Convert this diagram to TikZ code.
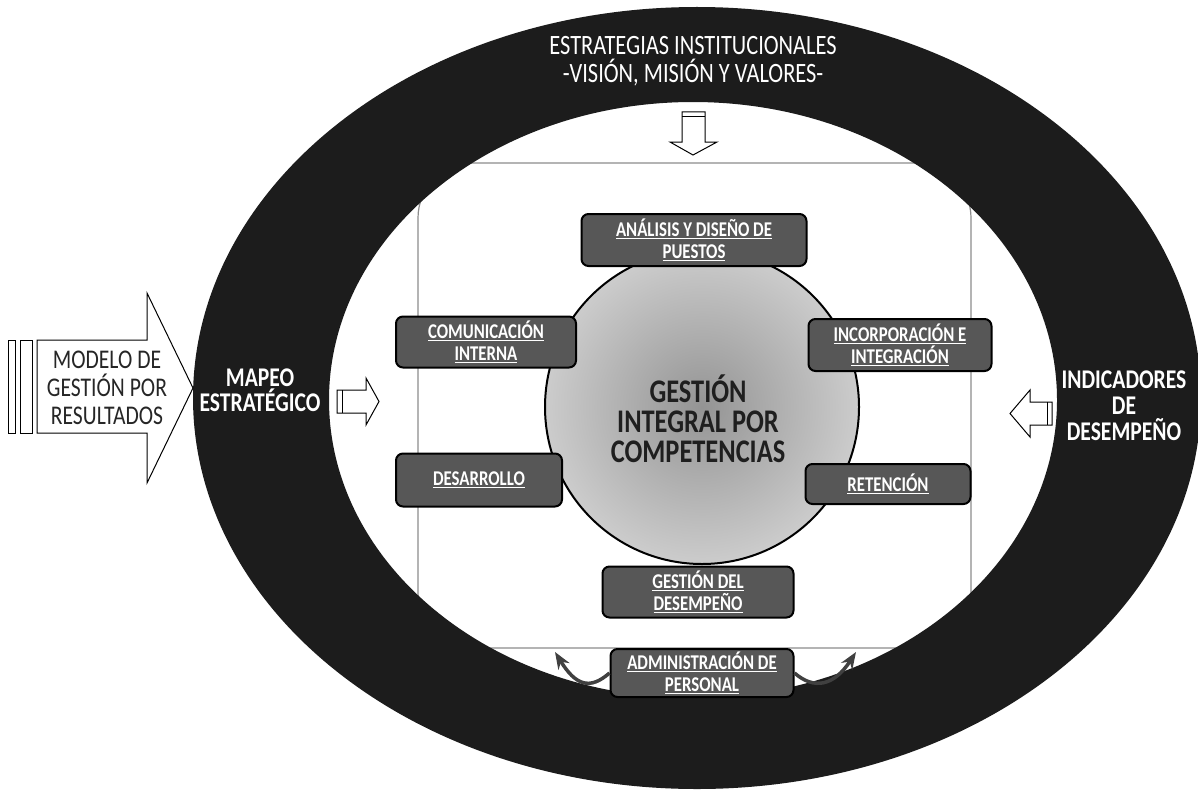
\documentclass[tikz,border=0pt]{standalone}
\usepackage{fontspec}
\setmainfont{Carlito}[FakeStretch=0.8]
\usetikzlibrary{arrows.meta}
\definecolor{ringc}{HTML}{1C1C1C}
\definecolor{boxc}{HTML}{575757}
\definecolor{rectc}{HTML}{8C8C8C}
\tikzset{
  bx/.style={draw=black, line width=2pt, fill=boxc, rounded corners=7pt, text=white,
    font=\bfseries\fontsize{21}{22}\selectfont, align=center, inner sep=0pt},
  blockarrow/.style={draw=black, line width=1pt, fill=white, line join=miter},
  curvarr/.style={line width=3.5pt, black!75, -{Stealth[length=17pt,width=13pt]}},
  ringtext/.style={text=white, align=center, font=\bfseries\fontsize{27}{26}\selectfont},
}
\begin{document}
\begin{tikzpicture}[x=1pt,y=-1pt]
\useasboundingbox (0,0) rectangle (1198,789);
\fill[white] (0,0) rectangle (1198,789);
% inner rounded rectangle (under the ring)
\draw[rectc, line width=1.2pt, rounded corners=55pt] (418,163) rectangle (971,648);
% dark ring
\fill[ringc, even odd rule] (697,398) ellipse [x radius=504, y radius=391]
  (693,400) ellipse [x radius=364, y radius=298];
% central circle
\shadedraw[inner color=black!42, outer color=black!20, line width=2pt] (702,407) circle [radius=157];
\node[font=\bfseries\fontsize{33}{30}\selectfont, text=black!88, align=center] (core) at (698,419) {GESTIÓN\\INTEGRAL POR\\COMPETENCIAS};
% boxes
\node[bx, minimum width=225, minimum height=52] (ana) at (694,240) {\underline{ANÁLISIS Y DISEÑO DE}\\\underline{PUESTOS}};
\node[bx, minimum width=180, minimum height=51] (com) at (486,342) {\underline{COMUNICACIÓN}\\\underline{INTERNA}};
\node[bx, minimum width=183, minimum height=52] (inc) at (900,345) {\underline{INCORPORACIÓN E}\\\underline{INTEGRACIÓN}};
\node[bx, minimum width=166, minimum height=53] (des) at (479,480) {\underline{DESARROLLO}};
\node[bx, minimum width=165, minimum height=40] (ret) at (888,484) {\underline{RETENCIÓN}};
\node[bx, minimum width=191, minimum height=51] (gde) at (698,592) {\underline{GESTIÓN DEL}\\\underline{DESEMPEÑO}};
\node[bx, minimum width=183, minimum height=48] (adm) at (702,673) {\underline{ADMINISTRACIÓN DE}\\\underline{PERSONAL}};
% curved arrows near ADMINISTRACIÓN
\coordinate (lend) at (555,652);
\coordinate (rend) at (856,652);
\draw[curvarr] (adm.west) .. controls (590,690) and (576,686) .. (lend);
\draw[curvarr] (adm.east) .. controls (814,690) and (834,686) .. (rend);
% ring texts
\node[text=white, align=center, font=\fontsize{28}{28}\selectfont] (est) at (693,61) {ESTRATEGIAS INSTITUCIONALES\\-VISIÓN, MISIÓN Y VALORES-};
\node[ringtext, font=\bfseries\fontsize{27}{25}\selectfont] (map) at (260,390) {MAPEO\\ESTRATÉGICO};
\node[ringtext] (ind) at (1124,406) {INDICADORES\\DE\\DESEMPEÑO};
% small block arrows
\draw[blockarrow] (682,112) -- (705,112) -- (705,142) -- (717,142) -- (693,155) -- (670,142) -- (682,142) -- cycle;
\draw[line width=1pt] (682,117) -- (705,117);
\draw[blockarrow] (337,390) -- (366,390) -- (366,378) -- (379,401.5) -- (366,425) -- (366,413) -- (337,413) -- cycle;
\draw[line width=1pt] (342,390) -- (342,413);
\draw[blockarrow] (1052,402) -- (1030,402) -- (1030,390) -- (1010,413.5) -- (1030,437) -- (1030,425) -- (1052,425) -- cycle;
\draw[line width=1pt] (1047,402) -- (1047,425);
% big left arrow
\draw[blockarrow] (37,340) -- (147,340) -- (147,293) -- (193,388) -- (147,483) -- (147,433) -- (37,433) -- cycle;
\draw[line width=1pt, fill=white] (8,340) rectangle (15,433);
\draw[line width=1pt, fill=white] (20,340) rectangle (32,433);
\node[align=center, font=\fontsize{27}{28}\selectfont, text=black!85] (mod) at (107,388) {MODELO DE\\GESTIÓN POR\\RESULTADOS};
\end{tikzpicture}
\end{document}
